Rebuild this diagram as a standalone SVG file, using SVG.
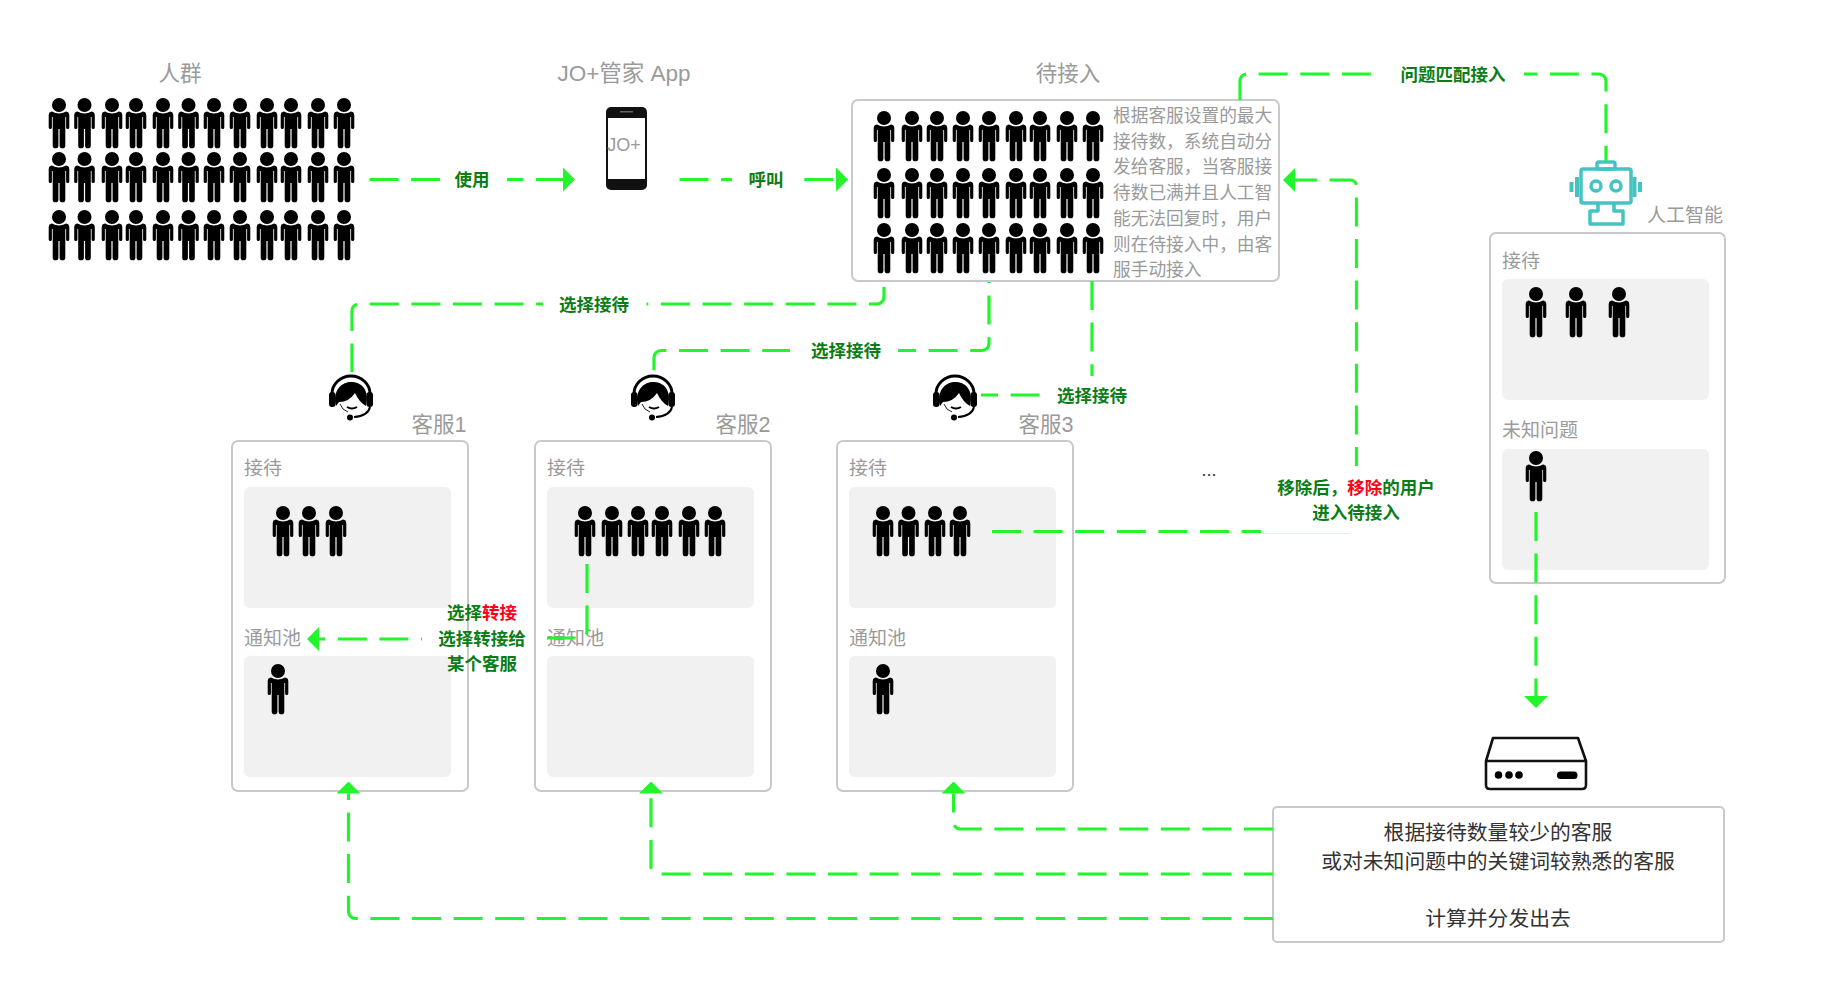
<svg xmlns="http://www.w3.org/2000/svg" xmlns:xlink="http://www.w3.org/1999/xlink" width="1824" height="988" viewBox="0 0 1824 988">
<style>
text{font-family:"Liberation Sans","Noto Sans CJK SC",sans-serif;dominant-baseline:central}
.t{font-size:21.5px;fill:#9a9a9a;text-anchor:middle}
.h{font-size:21.5px;fill:#9a9a9a;text-anchor:middle}
.s{font-size:19px;fill:#9a9a9a}
.q{font-size:17.7px;fill:#9a9a9a}
.g{font-size:17.5px;font-weight:700;fill:#0b7d16;text-anchor:middle}
.r{fill:#ff0018}
.b{font-size:20.8px;fill:#333;text-anchor:middle}
.card{fill:#fff;stroke:#c9c9c9;stroke-width:2}
.panel{fill:#f1f1f1}
.c{fill:none;stroke:#22f52b;stroke-width:3.2;stroke-dasharray:29 12.6}
.bg{fill:#fff}
.teal{fill:none;stroke:#45c3c3;stroke-width:3.5;stroke-linejoin:round}
.srv{fill:none;stroke:#111;stroke-width:2.6;stroke-linejoin:round}
</style>
<defs>
<path id="p" fill="#000" d="M-7 13.5Q0 17.5 7 13.5L8 13.7Q10.3 14.3 10.3 17V29.5A1.6 1.6 0 0 1 7.1 29.5V19H6.3V47.5A2.85 2.85 0 0 1 .6 47.5V31H-.6V47.5A2.85 2.85 0 0 1-6.3 47.5V19H-7.1V29.5A1.6 1.6 0 0 1-10.3 29.5V17Q-10.3 14.3-8 13.7ZM7 7A7 7 0 1 1-7 7A7 7 0 1 1 7 7Z"/>
<marker id="a" markerUnits="userSpaceOnUse" markerWidth="12" markerHeight="24" refX="0" refY="12" orient="auto"><path d="M0 0L12 12L0 24Z" fill="#22f52b"/></marker>
<g id="hs">
<path d="M-19 0V-3A19 18 0 0 1 19-3V0" fill="none" stroke="#000" stroke-width="3"/>
<path d="M-15 9C-19-8-8-15 0-15C10-15 19-8 15 9Q8 5 4-4Q-2 5-12 5Z" fill="#000"/>
<rect x="-22" y="-5" width="6.500" height="15" rx="3" fill="#000"/>
<rect x="15.500" y="-5" width="6.500" height="15" rx="3" fill="#000"/>
<path d="M-11 7Q-9 13-3 15" fill="none" stroke="#222" stroke-width="1"/>
<path d="M-4 10Q1 13 6 10" fill="none" stroke="#000" stroke-width="2"/>
<path d="M19 10Q17 19 3 20" fill="none" stroke="#000" stroke-width="2"/>
<circle cx="-1" cy="20.500" r="3" fill="#000"/>
</g>
</defs>
<rect width="1824" height="988" fill="#fff"/>

<g id="crowd">
<text class="t" x="180" y="74">人群</text>
<use href="#p" x="59" y="98"/><use href="#p" x="84.5" y="98"/><use href="#p" x="112" y="98"/><use href="#p" x="136" y="98"/><use href="#p" x="163" y="98"/><use href="#p" x="188.5" y="98"/><use href="#p" x="214" y="98"/><use href="#p" x="240" y="98"/><use href="#p" x="267" y="98"/><use href="#p" x="291" y="98"/><use href="#p" x="318" y="98"/><use href="#p" x="344" y="98"/>
<use href="#p" x="59" y="152"/><use href="#p" x="84.5" y="152"/><use href="#p" x="112" y="152"/><use href="#p" x="136" y="152"/><use href="#p" x="163" y="152"/><use href="#p" x="188.5" y="152"/><use href="#p" x="214" y="152"/><use href="#p" x="240" y="152"/><use href="#p" x="267" y="152"/><use href="#p" x="291" y="152"/><use href="#p" x="318" y="152"/><use href="#p" x="344" y="152"/>
<use href="#p" x="59" y="210"/><use href="#p" x="84.5" y="210"/><use href="#p" x="112" y="210"/><use href="#p" x="136" y="210"/><use href="#p" x="163" y="210"/><use href="#p" x="188.5" y="210"/><use href="#p" x="214" y="210"/><use href="#p" x="240" y="210"/><use href="#p" x="267" y="210"/><use href="#p" x="291" y="210"/><use href="#p" x="318" y="210"/><use href="#p" x="344" y="210"/>
</g>

<g id="app">
<text class="t" x="624" y="73" style="font-size:22.500px">JO+管家 App</text>
<rect x="606" y="107" width="41" height="83" rx="5" fill="#111"/>
<rect x="608" y="118" width="37" height="61" fill="#fff"/>
<rect x="620" y="111" width="13" height="1.5" fill="#666"/>
<text x="624" y="145" font-size="18" fill="#9a9a9a" text-anchor="middle">JO+</text>
</g>

<g id="queue">
<text class="t" x="1068" y="73.500">待接入</text>
<rect class="card" x="852" y="100" width="427" height="181" rx="6"/>
<use href="#p" x="884" y="111"/><use href="#p" x="912" y="111"/><use href="#p" x="937" y="111"/><use href="#p" x="963" y="111"/><use href="#p" x="989" y="111"/><use href="#p" x="1016" y="111"/><use href="#p" x="1040" y="111"/><use href="#p" x="1067" y="111"/><use href="#p" x="1093" y="111"/>
<use href="#p" x="884" y="168"/><use href="#p" x="912" y="168"/><use href="#p" x="937" y="168"/><use href="#p" x="963" y="168"/><use href="#p" x="989" y="168"/><use href="#p" x="1016" y="168"/><use href="#p" x="1040" y="168"/><use href="#p" x="1067" y="168"/><use href="#p" x="1093" y="168"/>
<use href="#p" x="884" y="223"/><use href="#p" x="912" y="223"/><use href="#p" x="937" y="223"/><use href="#p" x="963" y="223"/><use href="#p" x="989" y="223"/><use href="#p" x="1016" y="223"/><use href="#p" x="1040" y="223"/><use href="#p" x="1067" y="223"/><use href="#p" x="1093" y="223"/>
<text class="q" x="1113" y="116">根据客服设置的最大</text>
<text class="q" x="1113" y="141.700">接待数，系统自动分</text>
<text class="q" x="1113" y="167.400">发给客服，当客服接</text>
<text class="q" x="1113" y="193.100">待数已满并且人工智</text>
<text class="q" x="1113" y="218.800">能无法回复时，用户</text>
<text class="q" x="1113" y="244.500">则在待接入中，由客</text>
<text class="q" x="1113" y="270.200">服手动接入</text>
</g>

<g id="agent1">
<use href="#hs" x="351" y="397"/>
<text class="h" x="439" y="425">客服1</text>
<rect class="card" x="232" y="441" width="236" height="350" rx="6"/>
<text class="s" x="244" y="468.700">接待</text>
<rect class="panel" x="244" y="487" width="207" height="121" rx="6"/>
<use href="#p" x="283" y="506"/><use href="#p" x="309" y="506"/><use href="#p" x="336" y="506"/>
<text class="s" x="244" y="638.500">通知池</text>
<rect class="panel" x="244" y="656" width="207" height="121" rx="6"/>
<use href="#p" x="278" y="664"/>
</g>

<g id="agent2">
<use href="#hs" x="653" y="397"/>
<text class="h" x="743" y="425">客服2</text>
<rect class="card" x="535" y="441" width="236" height="350" rx="6"/>
<text class="s" x="547" y="468.700">接待</text>
<rect class="panel" x="547" y="487" width="207" height="121" rx="6"/>
<use href="#p" x="585" y="506"/><use href="#p" x="612" y="506"/><use href="#p" x="638" y="506"/><use href="#p" x="662" y="506"/><use href="#p" x="689" y="506"/><use href="#p" x="715" y="506"/>
<text class="s" x="547" y="638.500">通知池</text>
<rect class="panel" x="547" y="656" width="207" height="121" rx="6"/>
</g>

<g id="agent3">
<use href="#hs" x="955" y="397"/>
<text class="h" x="1046" y="425">客服3</text>
<rect class="card" x="837" y="441" width="236" height="350" rx="6"/>
<text class="s" x="849" y="468.700">接待</text>
<rect class="panel" x="849" y="487" width="207" height="121" rx="6"/>
<use href="#p" x="883" y="506"/><use href="#p" x="908.5" y="506"/><use href="#p" x="935" y="506"/><use href="#p" x="960" y="506"/>
<text class="s" x="849" y="638.500">通知池</text>
<rect class="panel" x="849" y="656" width="207" height="121" rx="6"/>
<use href="#p" x="883" y="664"/>
</g>

<g id="ai">
<text class="s" x="1647" y="215">人工智能</text>
<rect class="card" x="1490" y="233" width="235" height="350" rx="6"/>
<text class="s" x="1502" y="261">接待</text>
<rect class="panel" x="1502" y="279" width="207" height="121" rx="6"/>
<use href="#p" x="1536" y="287"/><use href="#p" x="1576" y="287"/><use href="#p" x="1619" y="287"/>
<text class="s" x="1502" y="430.500">未知问题</text>
<rect class="panel" x="1502" y="449" width="207" height="121" rx="6"/>
<use href="#p" x="1536" y="451"/>
<g id="robot" class="teal">
<rect x="1581" y="169" width="50" height="34" rx="2"/>
<rect x="1597" y="162" width="18" height="7" rx="2"/>
<circle cx="1596" cy="186" r="5"/><circle cx="1616" cy="186" r="5"/>
<path d="M1598 203V211H1590V224H1623V211H1614V203"/>
<path d="M1577 177V197M1634.500 177V197" stroke-width="4"/>
<path d="M1571.500 182V192M1640 182V192" stroke-width="4"/>
</g>
</g>

<g id="server">
<path class="srv" d="M1486 761L1493 738H1578L1586 761V785Q1586 789 1582 789H1490Q1486 789 1486 785ZM1486 761H1586"/>
<circle cx="1498.500" cy="775" r="3.800"/><circle cx="1509" cy="775" r="3.800"/><circle cx="1519" cy="775" r="3.800"/>
<rect x="1557" y="771.500" width="20.500" height="7.500" rx="3.500"/>
</g>

<g id="assign">
<rect x="1273" y="807" width="451" height="135" rx="4" fill="#fff" stroke="#c9c9c9" stroke-width="2"/>
<text class="b" x="1498" y="832.500">根据接待数量较少的客服</text>
<text class="b" x="1498" y="861.500">或对未知问题中的关键词较熟悉的客服</text>
<text class="b" x="1498" y="918.500">计算并分发出去</text>
</g>

<g id="connectors">
<path class="c" marker-end="url(#a)" d="M369.500 179.500H563"/>
<path class="c" marker-end="url(#a)" d="M679.500 179.500H836"/>
<path class="c" d="M1240 100V81A7 7 0 0 1 1247 74H1599A7 7 0 0 1 1606 81V161"/>
<path class="c" marker-end="url(#a)" stroke-dashoffset="10" d="M1356.500 466V186A6 6 0 0 0 1350.500 180H1295"/>
<path class="c" d="M992 531.500H1261"/>
<path d="M1261 533.500H1350" fill="none" stroke="#dcf8dc" stroke-width="1"/>
<path class="c" d="M884 287V297A7 7 0 0 1 877 304H359A7 7 0 0 0 352 311V372"/>
<path class="c" stroke-dashoffset="28" d="M989 282V343.500A7 7 0 0 1 982 350.500H661A7 7 0 0 0 654 357.500V372"/>
<path class="c" d="M1092 281V395H981"/>
<path class="c" d="M587 564V631A7 7 0 0 1 580 638H547"/>
<path class="c" marker-end="url(#a)" stroke-dashoffset="28" d="M422 639H319"/>
<path class="c" marker-end="url(#a)" d="M1536 512V696"/>
<path class="c" marker-end="url(#a)" d="M1273 829H960.500A7 7 0 0 1 953.500 822V793.500"/>
<path class="c" marker-end="url(#a)" d="M1273 874H658A7 7 0 0 1 651 867V793.500"/>
<path class="c" marker-end="url(#a)" d="M1273 918.500H355.500A7 7 0 0 1 348.500 911.500V793.500"/>
</g>

<g id="labels">
<rect class="bg" x="441" y="165" width="66" height="30"/><text class="g" x="472" y="179.500">使用</text>
<rect class="bg" x="732" y="165" width="72" height="30"/><text class="g" x="766" y="179.500">呼叫</text>
<rect class="bg" x="1376" y="62" width="148" height="26"/><text class="g" x="1453" y="74.500">问题匹配接入</text>
<rect class="bg" x="543" y="292" width="103.500" height="26"/><text class="g" x="594" y="304.500">选择接待</text>
<rect class="bg" x="790" y="338" width="108" height="26"/><text class="g" x="846" y="350.500">选择接待</text>
<rect class="bg" x="1041" y="376" width="100" height="30"/><text class="g" x="1092" y="395.500">选择接待</text>
<text class="g" x="482" y="613">选择<tspan class="r">转接</tspan></text>
<text class="g" x="482" y="638.500">选择转接给</text>
<text class="g" x="482" y="664">某个客服</text>
<text class="g" x="1356" y="487.500">移除后，<tspan class="r">移除</tspan>的用户</text>
<text class="g" x="1356" y="512.500">进入待接入</text>
<text x="1209" y="470" font-size="18" fill="#333" text-anchor="middle">...</text>
</g>
</svg>
